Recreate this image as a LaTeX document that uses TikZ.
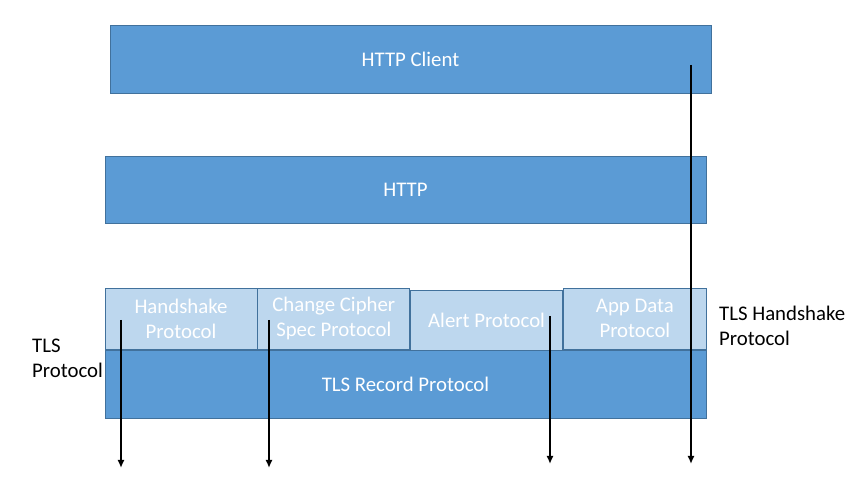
\documentclass[tikz,border=0pt]{standalone}
\usepackage{fontspec}
\setmainfont{Carlito}
\usetikzlibrary{arrows.meta, positioning}
\definecolor{layerBlue}{RGB}{91,155,213}
\definecolor{layerLight}{RGB}{189,215,238}
\definecolor{layerLine}{RGB}{65,113,156}

\begin{document}
\begin{tikzpicture}[
    x=1pt, y=-1pt,
    layer/.style={draw=layerLine, line width=0.8pt, fill=layerBlue, text=white, minimum width=601pt, minimum height=68pt, inner sep=0pt, align=center, font=\fontsize{20.8}{25}\selectfont},
    sub/.style={draw=layerLine, line width=0.8pt, fill=layerLight, text=white, minimum width=152pt, minimum height=61pt, inner sep=0pt, align=center, font=\fontsize{20.8}{25}\selectfont},
    note/.style={anchor=west, align=left, inner sep=0pt, font=\fontsize{20.8}{25}\selectfont},
    flow/.style={-{Latex[length=8pt, width=7pt]}, line width=1.9pt, draw=black}
]
    \useasboundingbox (0,0) rectangle (855,478);

    \node[layer] (client) at (410.5,59) {HTTP Client};
    \node[layer, minimum height=67pt] (http) at (405.5,189.5) {HTTP};
    \node[layer] (record) at (405.5,384) {TLS Record Protocol};
    \node[sub, anchor=south west] (hs) at (record.north west) {Handshake\\Protocol};
    \node[sub, right=0pt of hs] (ccs) {Change Cipher\\Spec Protocol};
    \node[sub, right=0pt of ccs, yshift=-1.5pt, minimum height=60pt] (alert) {Alert Protocol};
    \node[sub, right=0pt of alert, yshift=1.5pt, minimum width=143pt] (app) {App Data\\Protocol};

    \node[note] (tlsp) at (32,358) {TLS\\Protocol};
    \node[note] (tlsh) at (719,326) {TLS Handshake\\Protocol};

    \coordinate (hsStart) at (121,320);
    \coordinate (hsEnd) at (121,468);
    \coordinate (ccsStart) at (269,320);
    \coordinate (ccsEnd) at (269,468);
    \coordinate (alertStart) at (550,316);
    \coordinate (alertEnd) at (550,464);
    \coordinate (clientStart) at (691,65);
    \coordinate (clientEnd) at (691,464);

    \draw[flow] (hsStart) -- (hsEnd);
    \draw[flow] (ccsStart) -- (ccsEnd);
    \draw[flow] (alertStart) -- (alertEnd);
    \draw[flow] (clientStart) -- (clientEnd);
\end{tikzpicture}
\end{document}
